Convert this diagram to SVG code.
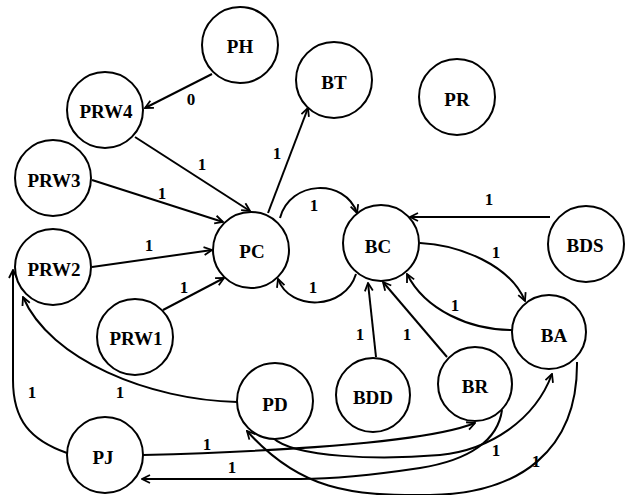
<svg xmlns="http://www.w3.org/2000/svg" width="627" height="495" viewBox="0 0 627 495">
<style>
.n circle{fill:#fff;stroke:#000;stroke-width:2}
.n text{font-family:'Liberation Serif','DejaVu Serif',serif;font-weight:700;font-size:19px;text-anchor:middle;dominant-baseline:central;fill:#000}
.e path{fill:none;stroke:#000;stroke-width:2;marker-end:url(#a)}
.l{font-family:'Liberation Serif','DejaVu Serif',serif;font-weight:700;font-size:17px;text-anchor:middle;dominant-baseline:central;fill:#000}
</style>
<defs>
<marker id="a" viewBox="0 0 10 10" refX="9" refY="5" markerWidth="10" markerHeight="10" markerUnits="userSpaceOnUse" orient="auto">
<path d="M1,1 L9,5 L1,9" fill="none" stroke="#000" stroke-width="1.8"/>
</marker>
</defs>
<rect width="627" height="495" fill="#fff"/>
<g id="connectors" class="e">
<path d="M212,74 L145,108"/>
<path d="M135,137 L250,211"/>
<path d="M92,180 L223,222"/>
<path d="M92,267 L212,250"/>
<path d="M163,310 L224,278"/>
<path d="M268,213 L308,108"/>
<path d="M280,218 C290,180 345,178 357,213"/>
<path d="M356,274 C345,310 290,312 278,279"/>
<path d="M550,217 L410,217"/>
<path d="M420,243 C460,245 510,265 525,301"/>
<path d="M512,330 C470,330 425,310 407,274"/>
<path d="M376,357 L368,283"/>
<path d="M447,357 L383,282"/>
<path d="M237,402 C150,400 50,360 23,297"/>
<path d="M67,453 C30,440 13,420 13,380 L13,270"/>
<path d="M143,455 C250,452 420,445 475,423"/>
<path d="M502,410 C498,440 470,460 420,468 C380,474 340,479 300,479 L142,479"/>
<path d="M273,438 C295,458 380,460 440,455 C490,450 535,420 552,374"/>
<path d="M577,362 C578,450 520,494 430,495 C350,496 300,490 247,431"/>
</g>
<g id="edge-labels">
<text class="l" x="191" y="99">0</text>
<text class="l" x="202" y="164">1</text>
<text class="l" x="162" y="193">1</text>
<text class="l" x="149" y="245">1</text>
<text class="l" x="184" y="287">1</text>
<text class="l" x="277" y="153">1</text>
<text class="l" x="314" y="205">1</text>
<text class="l" x="313" y="287">1</text>
<text class="l" x="489" y="199">1</text>
<text class="l" x="496" y="252">1</text>
<text class="l" x="455" y="305">1</text>
<text class="l" x="360" y="334">1</text>
<text class="l" x="407" y="334">1</text>
<text class="l" x="120" y="392">1</text>
<text class="l" x="32" y="392">1</text>
<text class="l" x="207" y="444">1</text>
<text class="l" x="232" y="467">1</text>
<text class="l" x="496" y="450">1</text>
<text class="l" x="536" y="461">1</text>
</g>
<g id="PH" class="n"><circle cx="240" cy="45" r="38"/><text x="240" y="46">PH</text></g>
<g id="PRW4" class="n"><circle cx="105" cy="110" r="38"/><text x="106" y="111">PRW4</text></g>
<g id="PRW3" class="n"><circle cx="53" cy="178" r="38"/><text x="54" y="180">PRW3</text></g>
<g id="PRW2" class="n"><circle cx="53" cy="267" r="38"/><text x="54" y="269">PRW2</text></g>
<g id="PRW1" class="n"><circle cx="135" cy="337" r="38"/><text x="136" y="338">PRW1</text></g>
<g id="PC" class="n"><circle cx="251" cy="250" r="38"/><text x="252" y="251">PC</text></g>
<g id="BT" class="n"><circle cx="334" cy="80" r="38"/><text x="334" y="82">BT</text></g>
<g id="PR" class="n"><circle cx="457" cy="97" r="38"/><text x="457" y="99">PR</text></g>
<g id="BC" class="n"><circle cx="381" cy="243" r="38"/><text x="378" y="246">BC</text></g>
<g id="BDS" class="n"><circle cx="586" cy="244" r="38"/><text x="585" y="245">BDS</text></g>
<g id="BA" class="n"><circle cx="549" cy="332" r="37"/><text x="554" y="335">BA</text></g>
<g id="BR" class="n"><circle cx="475" cy="384" r="37"/><text x="475" y="386">BR</text></g>
<g id="BDD" class="n"><circle cx="373" cy="395" r="37"/><text x="373" y="397">BDD</text></g>
<g id="PD" class="n"><circle cx="275" cy="401" r="38"/><text x="275" y="404">PD</text></g>
<g id="PJ" class="n"><circle cx="105" cy="455" r="38"/><text x="103" y="457">PJ</text></g>
</svg>
